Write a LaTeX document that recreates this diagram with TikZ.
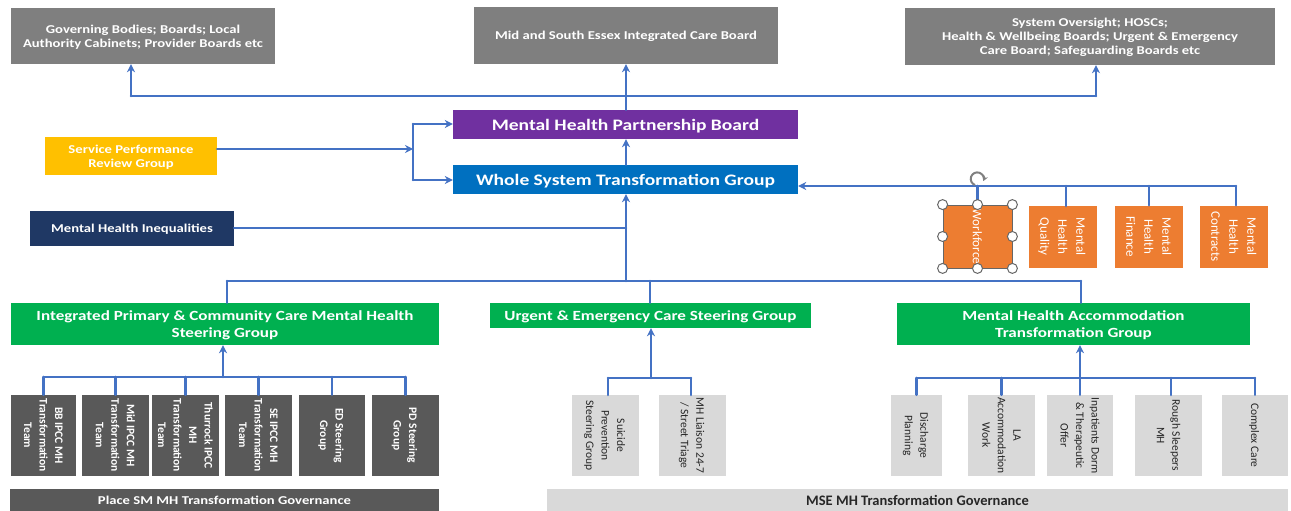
\documentclass[tikz,border=0pt]{standalone}
\usepackage{fontspec}
\setmainfont{Carlito}
\newfontfamily\widefont[FakeStretch=1.22]{Carlito}
\usepackage{tikz}
\usetikzlibrary{arrows.meta}
\definecolor{linkblue}{HTML}{4472C4}
\definecolor{topgray}{HTML}{7F7F7F}
\definecolor{boardpurple}{HTML}{7030A0}
\definecolor{groupblue}{HTML}{0070C0}
\definecolor{reviewyellow}{HTML}{FFC000}
\definecolor{navy}{HTML}{1F3864}
\definecolor{enablerorange}{HTML}{ED7D31}
\definecolor{steergreen}{HTML}{00B050}
\definecolor{placegray}{HTML}{595959}
\definecolor{msegray}{HTML}{D9D9D9}
\tikzset{
link/.style={draw=linkblue, line width=2.6pt, line cap=round}, % all the connector lines
uplink/.style={link, -{Stealth[length=8pt,width=8pt]}}, % connector with a head
box/.style={inner sep=0pt, align=center, text=white, text depth=0pt, font=\widefont\bfseries\fontsize{12}{14}\selectfont},
bigbox/.style={box, font=\widefont\bfseries\fontsize{16}{17}\selectfont},
greenbox/.style={box, fill=steergreen, font=\widefont\bfseries\fontsize{14}{17}\selectfont},
orangebox/.style={inner sep=0pt, align=center, text=white, text depth=0pt, rotate=-90, fill=enablerorange, minimum width=62pt, minimum height=68pt, font=\fontsize{13}{18}\selectfont},
placebox/.style={inner sep=0pt, align=center, text=white, text depth=0pt, rotate=-90, fill=placegray, minimum width=81pt, minimum height=66pt, font=\bfseries\fontsize{11.5}{15.5}\selectfont},
msebox/.style={inner sep=0pt, align=center, text=black!85, text depth=0pt, rotate=-90, fill=msegray, minimum width=81pt, minimum height=67pt, font=\fontsize{11.5}{15.5}\selectfont},
handle/.style={circle, draw=black!60, fill=white, line width=1pt, inner sep=0pt, minimum size=10pt},
}

\begin{document}
\begin{tikzpicture}[x=1pt, y=-1pt]
\useasboundingbox (0,0) rectangle (1291,511);

% top row
\node[box, fill=topgray, minimum width=264pt, minimum height=56pt] (governing) at (143,36) {Governing Bodies; Boards; Local\\Authority Cabinets; Provider Boards etc};
\node[box, fill=topgray, minimum width=304pt, minimum height=57pt] (icb) at (626,35.5) {Mid and South Essex Integrated Care Board};
\node[box, fill=topgray, minimum width=370pt, minimum height=57pt] (oversight) at (1090,36.5) {System Oversight; HOSCs;\\Health \& Wellbeing Boards; Urgent \& Emergency\\Care Board; Safeguarding Boards etc};

% middle
\node[bigbox, fill=boardpurple, minimum width=345pt, minimum height=29pt] (partnership) at (625.5,124.5) {Mental Health Partnership Board};
\node[bigbox, fill=groupblue, minimum width=345pt, minimum height=29pt] (transformation) at (625.5,179.5) {Whole System Transformation Group};
\node[box, fill=reviewyellow, minimum width=172pt, minimum height=38pt] (review) at (131,156) {Service Performance\\Review Group};
\node[box, fill=navy, minimum width=204pt, minimum height=35pt] (inequalities) at (132,228.5) {Mental Health Inequalities};

% orange groups
\node[orangebox, draw=black!60, line width=0.8pt, minimum width=63pt, minimum height=69pt] (workforce) at (977.5,236.5) {Workforce};
\node[orangebox] (quality) at (1063,236.5) {Mental\\Health\\Quality};
\node[orangebox] (finance) at (1149,236.5) {Mental\\Health\\Finance};
\node[orangebox] (contracts) at (1234,236.5) {Mental\\Health\\Contracts};

% steering groups
\node[greenbox, minimum width=428pt, minimum height=42pt] (primary) at (225,324) {Integrated Primary \& Community Care Mental Health\\Steering Group};
\node[greenbox, minimum width=321pt, minimum height=25pt] (urgent) at (650.5,315.5) {Urgent \& Emergency Care Steering Group};
\node[greenbox, minimum width=353pt, minimum height=42pt] (accommodation) at (1073.5,324) {Mental Health Accommodation\\Transformation Group};

% place teams
\node[placebox, minimum height=65pt] (bb) at (43.5,435.5) {BB IPCC MH\\Transformation\\Team};
\node[placebox, minimum height=67pt] (mid) at (115.5,435.5) {Mid IPCC MH\\Transformation\\Team};
\node[placebox, minimum height=67pt] (thurrock) at (185.5,435.5) {Thurrock IPCC\\MH\\Transformation\\Team};
\node[placebox, minimum height=67pt] (se) at (258.5,435.5) {SE IPCC MH\\Transformation\\Team};
\node[placebox] (ed) at (332,435.5) {ED Steering\\Group};
\node[placebox, minimum height=67pt] (pd) at (405.5,435.5) {PD Steering\\Group};

% mse groups
\node[msebox] (suicide) at (605.5,435.5) {Suicide\\Prevention\\Steering Group};
\node[msebox] (liaison) at (692.5,435.5) {MH Liaison 24-7\\/ Street Triage};
\node[msebox, minimum height=51pt] (discharge) at (916.5,435.5) {Discharge\\Planning};
\node[msebox] (la) at (1001.5,435.5) {LA\\Accommodation\\Work};
\node[msebox, minimum height=66pt] (inpatients) at (1080,435.5) {Inpatients Dorm\\\& Therapeutic\\Offer};
\node[msebox] (rough) at (1168.5,435.5) {Rough Sleepers\\MH};
\node[msebox, minimum height=66pt] (complex) at (1255,435.5) {Complex Care};

% bars at the bottom
\node[box, fill=placegray, minimum width=429pt, minimum height=22pt] (placebar) at (224.5,500) {Place SM MH Transformation Governance};
\node[box, fill=msegray, text=black!85, minimum width=741pt, minimum height=22pt, font=\bfseries\fontsize{14.5}{14}\selectfont] (msebar) at (917.5,500) {MSE MH Transformation Governance};

% junctions
\coordinate (topbus) at (626,96);
\coordinate (toleft) at (131,96);
\coordinate (toright) at (1096,96);
\coordinate (reviewjoin) at (413,149);
\coordinate (reviewtop) at (413,124);
\coordinate (reviewbottom) at (413,180);
\coordinate (trunk) at (626,281);
\coordinate (ineqjoin) at (626,228);
\coordinate (primarydrop) at (227,281);
\coordinate (urgentdrop) at (650,281);
\coordinate (accomdrop) at (1081,281);
\coordinate (orangein) at (1236,186);
\coordinate (placebus) at (223,377);
\coordinate (msebus) at (651,378);
\coordinate (accombus) at (1080,378);

% links upward
\draw[uplink] (partnership.north -| topbus) -- (icb.south -| topbus);
\draw[uplink] (transformation.north -| topbus) -- (partnership.south -| topbus);
\draw[link] (toleft) -- (toright);
\draw[uplink] (toleft) -- (toleft |- governing.south);
\draw[uplink] (toright) -- (toright |- oversight.south);

% service review
\draw[uplink] (review.east |- reviewjoin) -- (reviewjoin);
\draw[link] (reviewtop) -- (reviewbottom);
\draw[uplink] (reviewtop) -- (reviewtop -| partnership.west);
\draw[uplink] (reviewbottom) -- (reviewbottom -| transformation.west);

% inequalities and steering groups
\draw[link] (inequalities.east |- ineqjoin) -- (ineqjoin);
\draw[uplink] (trunk) -- (trunk |- transformation.south);
\draw[link] (primarydrop) -- (accomdrop);
\draw[link] (primarydrop) -- (primarydrop |- primary.north);
\draw[link] (urgentdrop) -- (urgentdrop |- urgent.north);
\draw[link] (accomdrop) -- (accomdrop |- accommodation.north);

% orange groups
\draw[uplink] (orangein) -- (orangein -| transformation.east);
\draw[link] (orangein) -- (orangein |- contracts.west);
\draw[link] (workforce.west |- orangein) -- (workforce.west);
\draw[link] (quality.west |- orangein) ++(3,0) -- ++(0,20);
\draw[link] (finance.west |- orangein) -- (finance.west);

% place teams
\draw[uplink] (placebus) -- (placebus |- primary.south);
\draw[link] (bb.west |- placebus) -- (pd.west |- placebus);
\foreach \team in {bb,mid,thurrock,se,ed,pd}
 \draw[link] (\team.west |- placebus) -- (\team.west);

% mse groups
\draw[uplink] (msebus) -- (msebus |- urgent.south);
\draw[link] (suicide.west |- msebus) ++(2.5,0) -- ++(83,0);
\draw[link] (suicide.west |- msebus) ++(2.5,0) -- ++(0,17);
\draw[link] (liaison.west |- msebus) ++(-1.5,0) -- ++(0,17);
\draw[uplink] (accombus) -- (accombus |- accommodation.south);
\draw[link] (discharge.west |- accombus) -- (complex.west |- accombus);
\foreach \team in {discharge,la,inpatients,complex}
 \draw[link] (\team.west |- accombus) -- (\team.west);
\draw[link] (rough.west |- accombus) ++(2.5,0) -- ++(0,17);

% selection handles
\foreach \spot [count=\i] in {north west,north,north east,east,south east,south,south west,west}
 \node[handle] (grip\i) at (workforce.\spot) {};
\draw[black!50, line width=2pt, -{Stealth[length=5pt,width=6pt]}] (975,185) arc[start angle=250, end angle=-20, radius=6.5pt];
\end{tikzpicture}
\end{document}
